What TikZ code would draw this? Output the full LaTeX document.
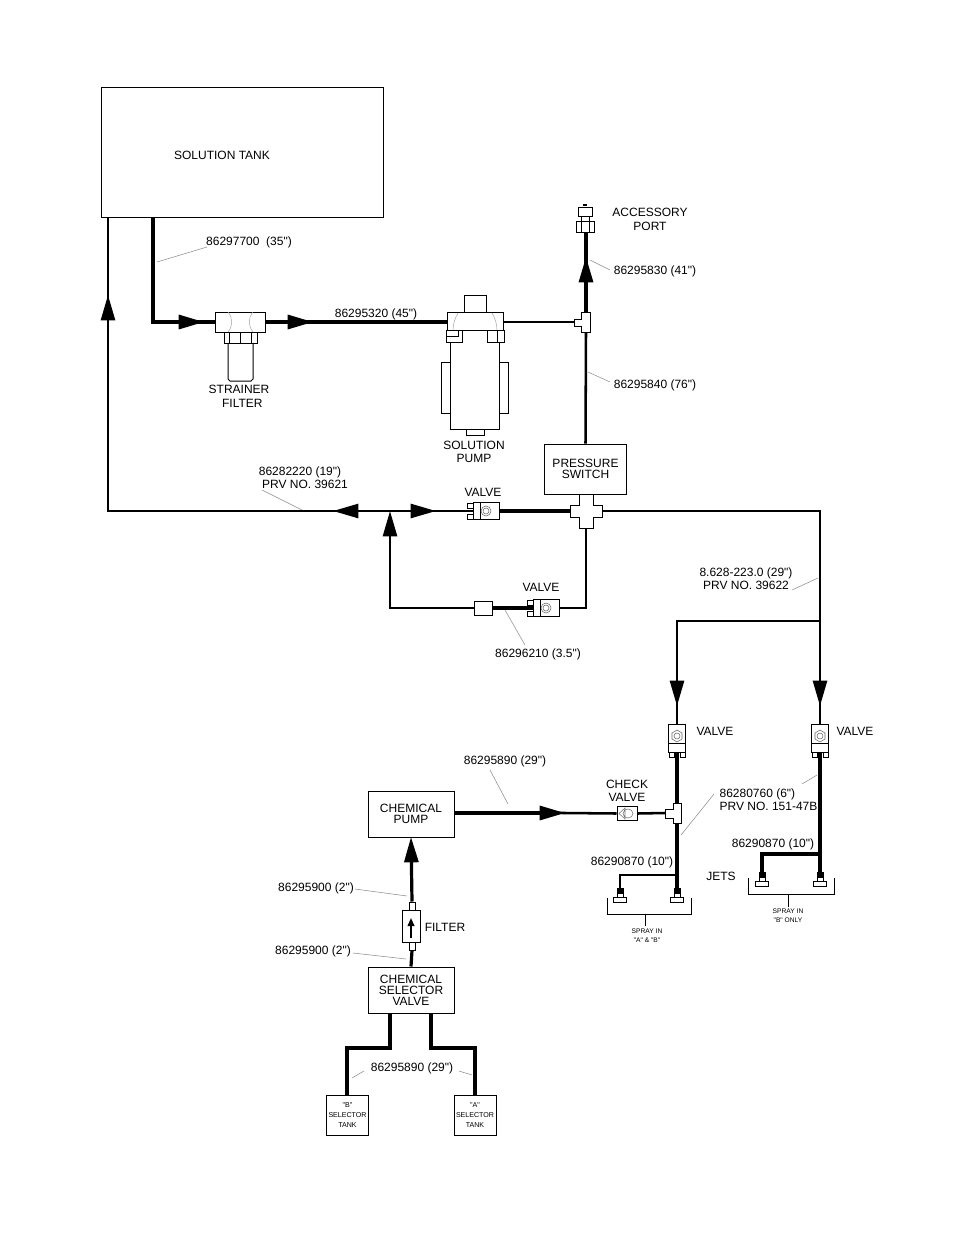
\documentclass[tikz,border=0pt]{standalone}
\usepackage{fontspec}
\defaultfontfeatures[\rmfamily,\sffamily]{}
\setmainfont{Liberation Sans}
\usetikzlibrary{arrows.meta}
\tikzset{
    lbl/.style={inner sep=1pt,align=center,font=\fontsize{9pt}{8.3pt}\selectfont},
    tiny/.style={inner sep=0pt,align=center,font=\fontsize{5pt}{6.6pt}\selectfont},
    box/.style={draw=black,line width=0.75pt,fill=white,inner sep=0pt,align=center,font=\fontsize{9pt}{8.3pt}\selectfont},
    part/.style={draw=black,line width=0.75pt,fill=white},
    pipe/.style={line width=2.4pt,black},
    thinpipe/.style={line width=1.9pt,black},
    flow/.style={pipe,-{Triangle[length=19pt,width=10.5pt]}},
    thinflow/.style={thinpipe,-{Triangle[length=19pt,width=10.5pt]}},
    onward/.style={pipe,shorten <=-7pt},
    thinonward/.style={thinpipe,shorten <=-7pt},
    leader/.style={line width=0.4pt,black!45},
    valveh/.pic={
        \draw[part] (-19,-8) rectangle (-13,-3);
        \draw[part] (-19,3) rectangle (-13,8);
        \draw[part] (-13,-8.5) rectangle (13,8.5);
        \draw[line width=0.75pt] (-6,-8.5) -- (-6,8.5);
        \draw[line width=0.4pt,black!60] (0,0) circle (5) (0,0) circle (3);
        \coordinate (-in) at (-13,0);
        \coordinate (-out) at (13,0);
    },
    valvev/.pic={
        \draw[part] (-8,16) rectangle (-3,21);
        \draw[part] (3,16) rectangle (8,21);
        \draw[part] (-8.5,-12) rectangle (8.5,16);
        \draw[line width=0.75pt] (-8.5,7) -- (8.5,7);
        \draw[line width=0.4pt,black!60] (0,-6) -- (5,-3) -- (5,3) -- (0,6) -- (-5,3) -- (-5,-3) -- cycle (0,0) circle (3);
        \coordinate (-in) at (0,-12);
        \coordinate (-out) at (0,16);
    },
    jet/.pic={
        \fill[black] (-3.5,0) rectangle (3.5,5);
        \draw[part] (-3,5) rectangle (3,9);
        \draw[part] (-6.5,9) rectangle (6.5,14);
        \coordinate (-in) at (0,0);
    },
}
\begin{document}
\begin{tikzpicture}[x=0.75pt,y=-0.75pt]
    \useasboundingbox (0,0) rectangle (954,1235);
    \fill[white] (0,0) rectangle (954,1235);

    % tanks and boxes
    \node[box,minimum width=212.2pt,minimum height=97.5pt] (tank) at (242.5,152) {};
    \node[lbl] (tanktxt) at (222,155) {SOLUTION TANK};
    \node[box,minimum width=62.2pt,minimum height=37.5pt] (switch) at (585.5,469) {PRESSURE\\SWITCH};
    \node[box,minimum width=64.5pt,minimum height=34.5pt] (chempump) at (411,814) {CHEMICAL\\PUMP};
    \node[box,minimum width=64.5pt,minimum height=34.5pt] (selector) at (411,990) {CHEMICAL\\SELECTOR\\VALVE};
    \node[box,minimum width=30.8pt,minimum height=30pt,font=\fontsize{5.3pt}{7.4pt}\selectfont] (tankb) at (347.5,1115) {"B"\\SELECTOR\\TANK};
    \node[box,minimum width=31.5pt,minimum height=30pt,font=\fontsize{5.3pt}{7.4pt}\selectfont] (tanka) at (475,1115) {"A"\\SELECTOR\\TANK};
    \node[box,minimum width=14.2pt,minimum height=10.5pt] (coupler) at (483.5,608) {};
    \node[box,minimum width=15pt,minimum height=9.8pt] (checkv) at (627,813.5) {};
    \node[box,minimum width=14.2pt,minimum height=24pt] (filter) at (411.5,926) {};
    \node[box,minimum width=4.5pt,minimum height=6pt] (filtertop) at (412,906) {};
    \node[box,minimum width=4.5pt,minimum height=6pt] (filterbot) at (412,946) {};

    % junctions and arrow tips
    \coordinate (tankout) at (153,217);
    \coordinate (tankin) at (108,217);
    \coordinate (tip1) at (204,322);
    \coordinate (tip2) at (313,322);
    \coordinate (tip3) at (586,257);
    \coordinate (tip4) at (333,511);
    \coordinate (tip5) at (436,511);
    \coordinate (tip6) at (108,295);
    \coordinate (tip7) at (390,511);
    \coordinate (tip8) at (677,706);
    \coordinate (tip9) at (820,706);
    \coordinate (tip10) at (565,813);
    \coordinate (tip11) at (411,837);
    \coordinate (split) at (820,621);
    \coordinate (strainin) at (215,322);
    \coordinate (strainout) at (266,322);
    \coordinate (pumpin) at (447,322);
    \coordinate (pumpout) at (503,322);
    \coordinate (teein) at (574,322);
    \coordinate (teetop) at (586,312);
    \coordinate (teebot) at (586,332);
    \coordinate (portin) at (586,232);
    \coordinate (crossw) at (570,511);
    \coordinate (crosse) at (602,511);
    \coordinate (crosss) at (586,528);
    \coordinate (teeb) at (665,813);
    \coordinate (chemout) at (454,813);
    \coordinate (selb) at (390,1013);
    \coordinate (sela) at (431,1013);
    \coordinate (cornerb) at (347,1048);
    \coordinate (cornera) at (475,1048);

    % pipes
    \draw[flow] (tankout) |- (tip1);
    \draw[onward] (tip1) -- (strainin);
    \draw[flow] (strainout) -- (tip2);
    \draw[onward] (tip2) -- (pumpin);
    \draw[thinpipe] (pumpout) -- (teein);
    \draw[flow] (teetop) -- (tip3);
    \draw[onward] (tip3) -- (portin);
    \draw[thinpipe] (teebot) -- (switch.north);
    \draw[thinflow] (tip7) -- (tip4);
    \draw[thinflow] (tip7) -- (tip5);
    \draw[thinflow,shorten <=-7pt] (tip4) -| (tip6);
    \draw[thinonward] (tip6) -- (tankin);
    \draw[thinpipe] (crosss) |- (coupler.east);
    \draw[thinflow] (coupler.west) -| (tip7);
    \draw[thinpipe] (crosse) -| (split);
    \draw[thinflow] (split) -- (tip9);
    \draw[thinflow] (split) -| (tip8);
    \draw[flow] (chemout) -- (tip10);
    \draw[thinonward] (tip10) -- (checkv.west);
    \draw[thinpipe] (checkv.east) -- (teeb);
    \draw[flow] (filtertop.north) -- (tip11);
    \draw[pipe] (filterbot.south) -- (selector.north);
    \draw[pipe] (selb) |- (cornerb) -- (tankb.north -| cornerb);
    \draw[pipe] (sela) |- (cornera) -- (tanka.north -| cornera);

    % strainer
    \draw[part] (228,343) -- (228,379) -- (230,381) -- (251,381) -- (253,379) -- (253,343) -- cycle;
    \draw[part] (224,332) rectangle (257,343);
    \draw[line width=0.6pt] (229,332) -- (229,343) (240,332) -- (240,343) (251,332) -- (251,343);
    \draw[part] (215,312) rectangle (265,332);
    \draw[line width=0.4pt,black!35] (228,312) .. controls (233,318) and (233,326) .. (228,332);
    \draw[line width=0.4pt,black!35] (253,312) .. controls (248,318) and (248,326) .. (253,332);

    % pump
    \draw[part] (441,362) rectangle (450,413);
    \draw[part] (499,362) rectangle (508,413);
    \draw[part] (466,429) rectangle (484,435);
    \draw[part] (450,330) rectangle (499,429);
    \draw[part] (464,295) rectangle (486,316);
    \draw[part] (447,330) -- (447,312) -- (503,312) -- (503,330) -- cycle;
    \draw[line width=0.4pt,black!35] (458,313) .. controls (455,318) and (453,324) .. (453,330);
    \draw[line width=0.4pt,black!35] (492,313) .. controls (495,318) and (497,324) .. (497,330);
    \draw[part] (446,330) rectangle (462,342);
    \draw[part] (487,330) rectangle (504,342);
    \draw[line width=0.6pt] (497,330) -- (497,342) (446,336) -- (458,336) -- (458,330);

    % tees and cross
    \draw[part] (574,319) -- (581,319) -- (581,312) -- (590,312) -- (590,332) -- (581,332) -- (581,326) -- (574,326) -- cycle;
    \draw[part] (579,494) -- (593,494) -- (593,505) -- (602,505) -- (602,517) -- (593,517) -- (593,528) -- (579,528) -- (579,517) -- (570,517) -- (570,505) -- (579,505) -- cycle;
    \draw[part] (665,809) -- (673,809) -- (673,803) -- (681,803) -- (681,823) -- (673,823) -- (673,818) -- (665,818) -- cycle;

    % accessory port
    \draw[part] (578,207) rectangle (592,216);
    \draw[part] (581,216) rectangle (589,221);
    \draw[part] (576,221) rectangle (594,232);
    \draw[line width=0.6pt] (581,221) -- (581,232) (589,221) -- (589,232);
    \fill (583,204) rectangle (587,206);

    % valves and the lines they sit on
    \pic (vone) at (486,511) {valveh};
    \pic (vtwo) at (546,608) {valveh};
    \pic (vthree) at (677,736) {valvev};
    \pic (vfour) at (820,736) {valvev};
    \draw[thinonward] (tip5) -- (vone-in);
    \draw[pipe] (vone-out) -- (crossw);
    \draw[pipe] (vtwo-in) -- (coupler.east);
    \draw[thinpipe] (vtwo-out) -- (586,608);
    \draw[thinonward] (tip8) -- (vthree-in);
    \draw[thinonward] (tip9) -- (vfour-in);

    % jets
    \pic (jone) at (620,888) {jet};
    \pic (jtwo) at (677,888) {jet};
    \pic (jthree) at (762,872) {jet};
    \pic (jfour) at (820,872) {jet};
    \draw[pipe] (vthree-out) -- (677,803);
    \draw[pipe] (677,823) -- (jtwo-in);
    \draw[thinpipe] (677,875) -| (jone-in);
    \draw[pipe] (vfour-out) -- (jfour-in);
    \draw[pipe] (820,854) -| (jthree-in);

    % spray brackets
    \draw[line width=0.75pt] (607,898) |- (691,914) -- (691,898);
    \draw[line width=0.75pt] (645,914) -- (645,926);
    \draw[line width=0.75pt] (748,878) |- (834,894) -- (834,878);
    \draw[line width=0.75pt] (788,894) -- (788,907);
    \node[tiny] (sprayab) at (647,936) {SPRAY IN\\"A" \& "B"};
    \node[tiny] (sprayb) at (788,916) {SPRAY IN\\"B" ONLY};

    % filter and check valve insides
    \draw[-{Triangle[length=6pt,width=5pt]},line width=1.3pt] (411,938) -- (411,918);
    \draw[line width=0.4pt,black!55] (619,813.5) -- (625,808) -- (625,819) -- cycle (628,813.5) ellipse (5 and 4.5);

    % labels
    \node[lbl] (strainertxt) at (239,396.5) {STRAINER\\[2.3pt]\ \ FILTER};
    \node[lbl] (pumptxt) at (474,451.5) {SOLUTION\\[1.5pt]PUMP};
    \node[lbl] (porttxt) at (650,219) {ACCESSORY\\[2pt]PORT};
    \node[lbl] (vonetxt) at (483,492) {VALVE};
    \node[lbl] (vtwotxt) at (541,587) {VALVE};
    \node[lbl] (vthreetxt) at (715,731) {VALVE};
    \node[lbl] (vfourtxt) at (855,731) {VALVE};
    \node[lbl] (checktxt) at (627,791) {CHECK\\[1pt]VALVE};
    \node[lbl] (filtertxt) at (445,927) {FILTER};
    \node[lbl] (jetstxt) at (721,876) {JETS};

    \node[lbl] (ptank) at (249,242) {86297700\ \ (35")};
    \node[lbl] (ppump) at (376,314) {86295320 (45")};
    \node[lbl] (pport) at (655,271) {86295830 (41")};
    \node[lbl] (pswitch) at (655,385) {86295840 (76")};
    \node[lbl] (pback) at (300,477.5) {86282220 (19")\\[1.5pt]\ \ \ PRV NO. 39621};
    \node[lbl] (pright) at (746,578.5) {8.628-223.0 (29")\\[1.5pt]PRV NO. 39622};
    \node[lbl] (pbypass) at (538,654) {86296210 (3.5")};
    \node[lbl] (pchem) at (505,761) {86295890 (29")};
    \node[lbl,align=left,anchor=west] (ptee) at (718,799.5) {86280760 (6")\\[1.5pt]PRV NO. 151-47B};
    \node[lbl] (pjeta) at (632,862) {86290870 (10")};
    \node[lbl] (pjetb) at (773,844) {86290870 (10")};
    \node[lbl] (pfilta) at (316,888) {86295900 (2")};
    \node[lbl] (pfiltb) at (313,951) {86295900 (2")};
    \node[lbl] (ptanks) at (412,1068) {86295890 (29")};

    % leader lines
    \coordinate (ltank) at (157,262);
    \coordinate (lport) at (590,260);
    \coordinate (lswitch) at (588,372);
    \coordinate (lback) at (302,510);
    \coordinate (lright) at (818,578);
    \coordinate (lbypass) at (505,610);
    \coordinate (lchem) at (508,804);
    \coordinate (ltee) at (681,835);
    \coordinate (lteeb) at (817,775);
    \coordinate (lfilta) at (407,896);
    \coordinate (lfiltb) at (406,959);
    \coordinate (ltankb) at (352,1078);
    \coordinate (ltanka) at (472,1075);
    \draw[leader] (207,247) -- (ltank);
    \draw[leader] (610,270) -- (lport);
    \draw[leader] (610,382) -- (lswitch);
    \draw[leader] (262,490) -- (lback);
    \draw[leader] (792,590) -- (lright);
    \draw[leader] (525,645) -- (lbypass);
    \draw[leader] (490,770) -- (lchem);
    \draw[leader] (714,794) -- (ltee);
    \draw[leader] (802,784) -- (lteeb);
    \draw[leader] (355,889) -- (lfilta);
    \draw[leader] (353,953) -- (lfiltb);
    \draw[leader] (364,1071) -- (ltankb);
    \draw[leader] (459,1071) -- (ltanka);
\end{tikzpicture}
\end{document}
